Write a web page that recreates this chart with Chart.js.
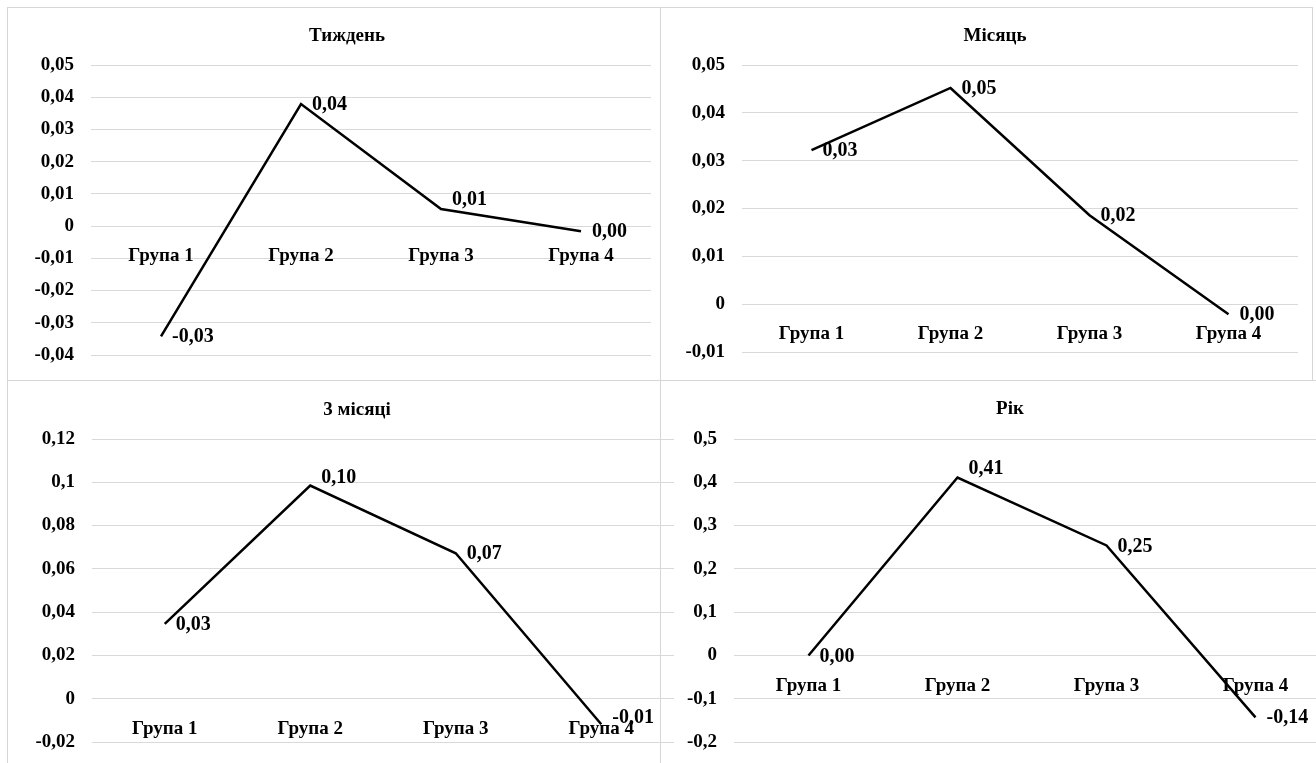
<!DOCTYPE html>
<html>
<head>
<meta charset="utf-8">
<script src="https://cdn.jsdelivr.net/npm/chart.js@4.4.1/dist/chart.umd.min.js"></script>
<style>
  html, body { margin: 0; padding: 0; background: #fff; overflow: hidden; }
  #page { position: relative; width: 1316px; height: 763px; overflow: hidden; background: #fff; }
  canvas { position: absolute; }
  .frame { position: absolute; border: 1px solid #d6d6d6; box-sizing: border-box; }
</style>
</head>
<body>
<div id="page">
  <div class="frame" style="left:7px;top:7px;width:654px;height:374px"></div>
  <div class="frame" style="left:660px;top:7px;width:653px;height:374px"></div>
  <div class="frame" style="left:7px;top:380px;width:654px;height:420px"></div>
  <div class="frame" style="left:660px;top:380px;width:720px;height:420px"></div>
  <canvas id="chart-week"></canvas>
  <canvas id="chart-month"></canvas>
  <canvas id="chart-quarter"></canvas>
  <canvas id="chart-year"></canvas>
</div>
<script>
// categories
const groups = ["Група 1", "Група 2", "Група 3", "Група 4"];

// series values
const weekValues = [-0.0342, 0.0379, 0.0053, -0.0016];
const monthValues = [0.0322, 0.0452, 0.0186, -0.0021];
const quarterValues = [0.0346, 0.0985, 0.0672, -0.0118];
const yearValues = [0.0, 0.411, 0.254, -0.143];

// y tick values
const weekTicks = [-0.04, -0.03, -0.02, -0.01, 0, 0.01, 0.02, 0.03, 0.04, 0.05];
const monthTicks = [-0.01, 0, 0.01, 0.02, 0.03, 0.04, 0.05];
const quarterTicks = [-0.02, 0, 0.02, 0.04, 0.06, 0.08, 0.1, 0.12];
const yearTicks = [-0.2, -0.1, 0, 0.1, 0.2, 0.3, 0.4, 0.5];

const FONT = '"Liberation Serif", "Times New Roman", serif';
const FSIZE = 19;
const LABEL_SIZE = 20;

// excel-like comma decimals
function fmtTick(v) {
  return String(parseFloat(Number(v).toFixed(4))).replace(".", ",");
}
function fmtLabel(v) {
  let s = v.toFixed(2);
  if (parseFloat(s) === 0) s = "0.00";
  return s.replace(".", ",");
}

// value labels to the right of each point
const pointLabels = {
  id: "pointLabels",
  afterDatasetsDraw(chart, args, opts) {
    const ctx = chart.ctx;
    const meta = chart.getDatasetMeta(0);
    const data = chart.data.datasets[0].data;
    ctx.save();
    ctx.font = "bold " + LABEL_SIZE + "px " + FONT;
    ctx.fillStyle = "#000";
    ctx.textAlign = "left";
    ctx.textBaseline = "middle";
    meta.data.forEach((pt, i) => {
      const dy = opts.nudge ? opts.nudge[i] : 0;
      ctx.fillText(fmtLabel(data[i]), pt.x + 11, pt.y + 1 + dy);
    });
    ctx.restore();
  },
};

// chart title, placed like the excel one (not centred on the plot)
const panelTitle = {
  id: "panelTitle",
  afterDraw(chart, args, opts) {
    const ctx = chart.ctx;
    ctx.save();
    ctx.font = "bold " + FSIZE + "px " + FONT;
    ctx.fillStyle = "#000";
    ctx.textAlign = "center";
    ctx.textBaseline = "middle";
    ctx.fillText(opts.text, opts.x, opts.y);
    ctx.restore();
  },
};

function makeChart(id, title, values, ticks, lay) {
  const el = document.getElementById(id);
  el.width = lay.w;
  el.height = lay.h;
  el.style.left = lay.left + "px";
  el.style.top = lay.top + "px";
  return new Chart(el, {
    type: "line",
    data: {
      labels: groups,
      datasets: [
        {
          data: values,
          borderColor: "#000",
          borderWidth: 2.5,
          pointRadius: 0,
          tension: 0,
          fill: false,
        },
      ],
    },
    options: {
      responsive: false,
      animation: false,
      devicePixelRatio: 1,
      layout: {
        padding: { left: 0, right: lay.pr, top: lay.areaTop, bottom: lay.pb },
      },
      plugins: {
        legend: { display: false },
        tooltip: { enabled: false },
        title: { display: false },
        panelTitle: { text: title, x: lay.titleX, y: lay.titleY },
        pointLabels: { nudge: lay.nudge },
      },
      scales: {
        x: {
          type: "category",
          offset: true,
          position: { y: 0 },
          grid: { display: false },
          border: { display: false },
          ticks: {
            color: "#000",
            font: { family: FONT, size: FSIZE, weight: "bold" },
            padding: 11,
            maxRotation: 0,
            autoSkip: false,
          },
        },
        y: {
          min: ticks[0],
          max: ticks[ticks.length - 1],
          grid: { color: "#d9d9d9", lineWidth: 1, drawTicks: false },
          border: { display: false },
          ticks: {
            color: "#000",
            font: { family: FONT, size: FSIZE, weight: "bold" },
            padding: 17,
            callback: (v) => fmtTick(v),
          },
          afterBuildTicks: (s) => {
            s.ticks = ticks.map((v) => ({ value: v }));
          },
          afterFit: (s) => {
            s.width = lay.yw;
            s.paddingTop = 0;
            s.paddingBottom = 0;
          },
        },
      },
    },
    plugins: [pointLabels, panelTitle],
  });
}

makeChart("chart-week", "Тиждень", weekValues, weekTicks, {
  left: 7, top: 7, w: 653, h: 373, pr: 9, pb: 25, yw: 84,
  titleX: 340, titleY: 29, areaTop: 58, nudge: [0, 0, -10, 0],
});
makeChart("chart-month", "Місяць", monthValues, monthTicks, {
  left: 660, top: 7, w: 652, h: 373, pr: 14, pb: 28, yw: 82,
  titleX: 335, titleY: 29, areaTop: 58, nudge: [0, 0, 0, 0],
});
makeChart("chart-quarter", "3 місяці", quarterValues, quarterTicks, {
  left: 7, top: 380, w: 680, h: 383, pr: 13, pb: 21, yw: 85,
  titleX: 350, titleY: 30, areaTop: 59, nudge: [0, -9, 0, -7],
});
makeChart("chart-year", "Рік", yearValues, yearTicks, {
  left: 660, top: 380, w: 690, h: 383, pr: 20, pb: 21, yw: 74,
  titleX: 350, titleY: 29, areaTop: 59, nudge: [0, -10, 0, 0],
});
</script>
</body>
</html>
